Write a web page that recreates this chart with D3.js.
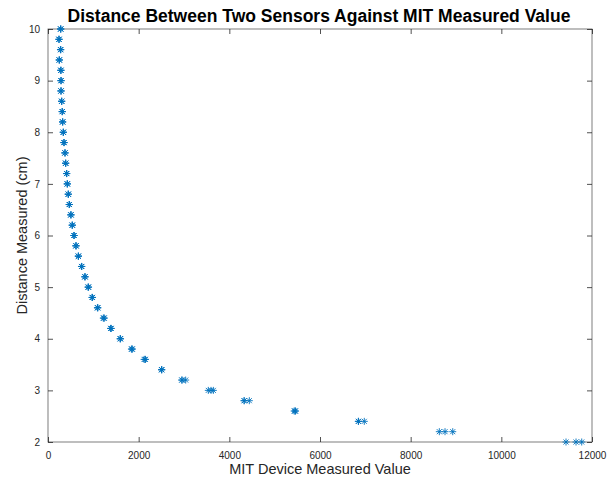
<!DOCTYPE html>
<html><head><meta charset="utf-8">
<script src="https://cdn.jsdelivr.net/npm/d3@7"></script>
<style>body{margin:0;background:#fff}svg{display:block}text{font-family:"Liberation Sans",Arial,sans-serif}</style>
</head><body>
<script>
const distances = [10,9.8,9.6,9.4,9.2,9.0,8.8,8.6,8.4,8.2,8.0,7.8,7.6,7.4,7.2,7.0,6.8,6.6,6.4,6.2,6.0,5.8,5.6,5.4,5.2,5.0,4.8,4.6,4.4,4.2,4.0,3.8,3.6,3.4,3.2,3.0,2.8,2.6,2.4,2.2,2.0];
const trial1 = [280,240,275,245,280,285,285,300,312,320,335,350,372,388,408,422,445,468,500,530,570,612,668,738,810,882,970,1090,1220,1380,1590,1840,2120,2505,2949,3536,4324,5430,6845,8632,11427];
const trial2 = [282,246,282,252,288,290,290,304,316,326,340,356,378,392,415,430,450,472,510,540,578,622,672,746,820,895,982,1100,1240,1395,1600,1860,2150,2510,3037,3596,4441,5460,6977,8758,11648];
const trial3 = [279,243,280,250,285,288,287,302,315,324,338,353,375,390,412,426,448,470,507,536,574,618,670,743,816,890,977,1096,1235,1390,1595,1853,2140,2508,2960,3647,4330,5450,6850,8928,11773];
const xTicks = [0,2000,4000,6000,8000,10000,12000];
const yTicks = [2,3,4,5,6,7,8,9,10];

const W=608,H=479, L=48,R=592,T=29,B=442;
const svg=d3.select("body").append("svg").attr("width",W).attr("height",H);
const x=d3.scaleLinear().domain([0,12000]).range([L,R]);
const y=d3.scaleLinear().domain([2,10]).range([B,T]);
const axCol="#262626";

function styleAxis(g, showText){
  g.select(".domain").remove();
  g.selectAll(".tick line").attr("stroke",axCol).attr("stroke-width",0.8);
  g.selectAll(".tick text").attr("fill",axCol).style("font-size","10px");
  if(!showText) g.selectAll(".tick text").remove();
}
const fmt=d3.format("d");
const gb=svg.append("g").attr("transform",`translate(0,${B})`)
  .call(d3.axisBottom(x).tickValues(xTicks).tickFormat(fmt).tickSizeInner(-5).tickSizeOuter(0).tickPadding(10));
styleAxis(gb,true);
const gt=svg.append("g").attr("transform",`translate(0,${T})`)
  .call(d3.axisTop(x).tickValues(xTicks).tickSizeInner(-5).tickSizeOuter(0));
styleAxis(gt,false);
const gl=svg.append("g").attr("transform",`translate(${L},0)`)
  .call(d3.axisLeft(y).tickValues(yTicks).tickFormat(fmt).tickSizeInner(-5).tickSizeOuter(0).tickPadding(8));
styleAxis(gl,true);
const gr=svg.append("g").attr("transform",`translate(${R},0)`)
  .call(d3.axisRight(y).tickValues(yTicks).tickSizeInner(-5).tickSizeOuter(0));
styleAxis(gr,false);

svg.append("rect").attr("x",L).attr("y",T).attr("width",R-L).attr("height",B-T)
  .attr("fill","none").attr("stroke",axCol).attr("stroke-width",0.8).attr("opacity",0.75);

const pts=[];
distances.forEach((d,i)=>{[trial1,trial2,trial3].forEach(t=>pts.push({x:t[i],y:d}));});
const s=3.5, s2=2.5;
const star=`M${-s},0L${s},0M0,${-s}L0,${s}M${-s2},${-s2}L${s2},${s2}M${-s2},${s2}L${s2},${-s2}`;
svg.append("g").selectAll("path").data(pts).join("path")
  .attr("transform",d=>`translate(${x(d.x)},${y(d.y)})`)
  .attr("d",star).attr("fill","none").attr("stroke","#0072BD").attr("stroke-width",0.9);

svg.append("text").attr("x",319).attr("y",22).attr("text-anchor","middle")
  .style("font-size","17.5px").style("font-weight","bold").attr("fill","#000")
  .text("Distance Between Two Sensors Against MIT Measured Value");
svg.append("text").attr("x",320).attr("y",474).attr("text-anchor","middle")
  .style("font-size","14.5px").attr("fill",axCol).text("MIT Device Measured Value");
svg.append("text").attr("transform",`translate(27,${(T+B)/2}) rotate(-90)`).attr("text-anchor","middle")
  .style("font-size","14.5px").attr("fill",axCol).text("Distance Measured (cm)");
</script>
</body></html>
